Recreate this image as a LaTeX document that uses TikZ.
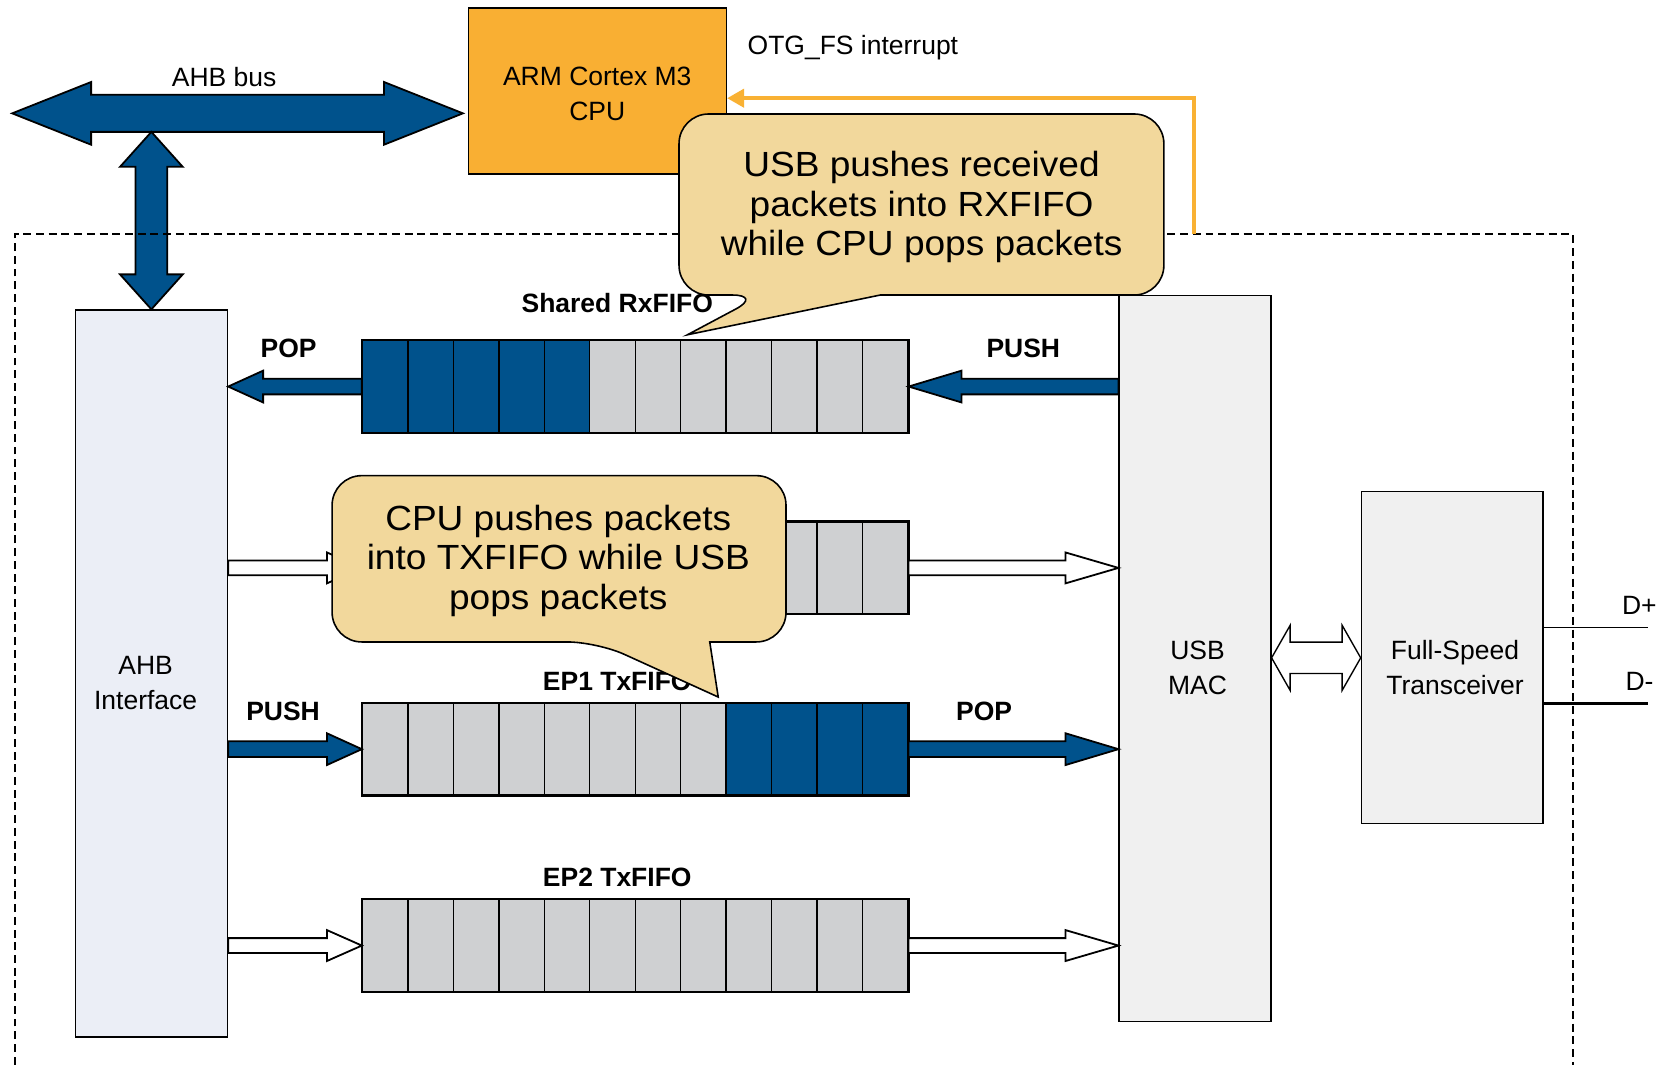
\documentclass[tikz,border=0pt]{standalone}
\usepackage{fontspec}
\setmainfont{Liberation Sans}
\newfontfamily\notefont[FakeStretch=1.06]{Liberation Sans}
\usetikzlibrary{calc,arrows.meta}

\definecolor{busblue}{HTML}{00528C}
\definecolor{cellgray}{HTML}{CFD0D2}
\definecolor{cpuorange}{HTML}{F9AF33}
\definecolor{irqorange}{HTML}{F9B133}
\definecolor{notefill}{HTML}{F2D89C}
\definecolor{ahbfill}{HTML}{EBEEF6}
\definecolor{macfill}{HTML}{F0F0F0}

% block arrow: [style]{tail}{tip}{shaft half width}{head half width}{head length}
\newcommand\blockarrow[6][]{%
  \coordinate (ba-h) at ($(#3)!#6!(#2)$);
  \filldraw[#1] ($(#2)!#4!90:(#3)$) -- ($(ba-h)!#4!90:(#3)$) -- ($(ba-h)!#5!90:(#3)$)
    -- (#3) -- ($(ba-h)!#5!-90:(#3)$) -- ($(ba-h)!#4!-90:(#3)$)
    -- ($(#2)!#4!-90:(#3)$) -- cycle;}

% double-headed block arrow: [style]{tip A}{tip B}{shaft half width}{head half width}{head length}
\newcommand\dblockarrow[6][]{%
  \coordinate (ba-a) at ($(#2)!#6!(#3)$);
  \coordinate (ba-b) at ($(#3)!#6!(#2)$);
  \filldraw[#1] (#2) -- ($(ba-a)!#5!90:(#3)$) -- ($(ba-a)!#4!90:(#3)$)
    -- ($(ba-b)!#4!-90:(#2)$) -- ($(ba-b)!#5!-90:(#2)$) -- (#3)
    -- ($(ba-b)!#5!90:(#2)$) -- ($(ba-b)!#4!90:(#2)$)
    -- ($(ba-a)!#4!-90:(#3)$) -- ($(ba-a)!#5!-90:(#3)$) -- cycle;}

\tikzset{
  box/.style={draw=black, line width=1.4pt, inner sep=0pt, anchor=north west},
  cell/.style={draw=black, line width=1.3pt, inner sep=0pt, anchor=north west,
    minimum width=42.9pt, minimum height=86.5pt},
  fifoframe/.style={draw=black, line width=2pt},
  bluearrow/.style={fill=busblue, draw=black, line width=1.7pt, line join=miter},
  hollowarrow/.style={fill=white, draw=black, line width=1.7pt, line join=miter},
  txt/.style={font=\fontsize{25}{33}\selectfont, inner sep=0pt, align=center},
  lbl/.style={font=\fontsize{25}{30}\selectfont\bfseries, inner sep=0pt, anchor=base},
  plain/.style={font=\fontsize{25}{30}\selectfont, inner sep=0pt, anchor=base},
  notetxt/.style={font=\notefont\fontsize{33}{37.5}\selectfont, inner sep=0pt, align=center},
  callout/.style={fill=notefill, draw=black, line width=1.5pt},
  boundary/.style={draw=black, line width=1.8pt, dash pattern=on 7.5pt off 4.5pt},
  irqline/.style={draw=irqorange, line width=3.8pt, -{Triangle[length=16pt,width=17pt]}},
}

\begin{document}
\begin{tikzpicture}[x=1pt, y=-1pt]
\useasboundingbox (0,0) rectangle (1568,1005);
\fill[white] (0,0) rectangle (1568,1005);

% ---- main blocks ----
\node[box, fill=cpuorange, minimum width=243.4pt, minimum height=156.7pt] (cpu) at (441.6,6.9) {};
\node[box, fill=ahbfill, minimum width=143.6pt, minimum height=686pt] (ahb) at (70.4,292) {};
\node[box, fill=macfill, minimum width=143.2pt, minimum height=685.3pt] (mac) at (1055.8,278.2) {};
\node[box, fill=macfill, minimum width=171.2pt, minimum height=313.1pt] (fs) at (1284.5,463.5) {};

\node[txt] (cputxt) at (563.8,89) {ARM Cortex M3\\CPU};
\node[txt] (ahbtxt) at (137.5,644.5) {AHB\\Interface};
\node[txt] (mactxt) at (1130.5,630.5) {USB\\MAC};
\node[txt] (fstxt) at (1373.5,630.5) {Full-Speed\\Transceiver};

% ---- FIFOs ----
\foreach \i in {1,...,12}{
  \ifnum\i<6 \def\cc{busblue}\else\def\cc{cellgray}\fi
  \node[cell, fill=\cc] (rx\i) at ({341.6+(\i-1)*42.9},321) {};
}
\draw[fifoframe] (rx1.north west) rectangle (rx12.south east);

\foreach \i in {1,...,12}{
  \node[cell, fill=cellgray] (ep0c\i) at ({341.6+(\i-1)*42.9},492.2) {};
}
\draw[fifoframe] (ep0c1.north west) rectangle (ep0c12.south east);

\foreach \i in {1,...,12}{
  \ifnum\i<9 \def\cc{cellgray}\else\def\cc{busblue}\fi
  \node[cell, fill=\cc] (ep1c\i) at ({341.6+(\i-1)*42.9},663.3) {};
}
\draw[fifoframe] (ep1c1.north west) rectangle (ep1c12.south east);

\foreach \i in {1,...,12}{
  \node[cell, fill=cellgray] (ep2c\i) at ({341.6+(\i-1)*42.9},848.7) {};
}
\draw[fifoframe] (ep2c1.north west) rectangle (ep2c12.south east);

\node[lbl] (rxlbl) at (582.7,295.2) {Shared RxFIFO};
\node[lbl] (ep1lbl) at (582.7,651.4) {EP1 TxFIFO};
\node[lbl] (ep2lbl) at (582.7,837) {EP2 TxFIFO};

% ---- data path arrows ----
\coordinate (rxpopend) at (ahb.east |- rx1.west);
\blockarrow[bluearrow]{rx1.west}{rxpopend}{7.4pt}{15pt}{33pt}
\coordinate (rxpushsrc) at (mac.west |- rx12.east);
\blockarrow[bluearrow]{rxpushsrc}{rx12.east}{7.4pt}{15pt}{50pt}
\node[lbl] (rxpop) at (272.4,337.3) {POP};
\node[lbl] (rxpush) at (966,337.6) {PUSH};

\coordinate (ep0in) at (ahb.east |- ep0c1.west);
\blockarrow[hollowarrow]{ep0in}{ep0c1.west}{7pt}{14.6pt}{33pt}
\coordinate (ep0out) at (mac.west |- ep0c12.east);
\blockarrow[hollowarrow]{ep0c12.east}{ep0out}{7pt}{14.6pt}{50pt}

\coordinate (ep1in) at (ahb.east |- ep1c1.west);
\blockarrow[bluearrow]{ep1in}{ep1c1.west}{7.4pt}{15pt}{33pt}
\coordinate (ep1out) at (mac.west |- ep1c12.east);
\blockarrow[bluearrow]{ep1c12.east}{ep1out}{7.4pt}{15pt}{50pt}
\node[lbl] (ep1push) at (267.2,680.3) {PUSH};
\node[lbl] (ep1pop) at (929,680.3) {POP};

\coordinate (ep2in) at (ahb.east |- ep2c1.west);
\blockarrow[hollowarrow]{ep2in}{ep2c1.west}{7pt}{14.6pt}{33pt}
\coordinate (ep2out) at (mac.west |- ep2c12.east);
\blockarrow[hollowarrow]{ep2c12.east}{ep2out}{7pt}{14.6pt}{50pt}

% ---- MAC <-> transceiver ----
\coordinate (linkL) at (mac.east |- 0,621);
\coordinate (linkR) at (fs.west |- 0,621);
\dblockarrow[hollowarrow, line width=1.3pt]{linkL}{linkR}{14.8pt}{30.7pt}{17.5pt}

% ---- D+ / D- lines ----
\coordinate (dpend) at (1556,592.6);
\coordinate (dmend) at (1556,663.8);
\draw[line width=1.3pt] (fs.east |- dpend) -- (dpend);
\draw[line width=2.6pt] (fs.east |- dmend) -- (dmend);
\node[plain] (dplbl) at (1547.5,579.7) {D+};
\node[plain] (dmlbl) at (1547.7,651.4) {D-};

% ---- AHB bus ----
\coordinate (busL) at (11.5,107);
\coordinate (busR) at (437,107);
\dblockarrow[bluearrow]{busL}{busR}{17.5pt}{29.6pt}{74.5pt}
\coordinate (busjoin) at (ahb.north |- 0,124.5);
\dblockarrow[bluearrow]{busjoin}{ahb.north}{15pt}{29.6pt}{33pt}
\node[plain] (buslbl) at (211.6,81.2) {AHB bus};

% ---- OTG core boundary ----
\draw[boundary] (14,1005) -- (14,221) -- (1484.7,221) -- (1484.7,1005);

% ---- interrupt line ----
\coordinate (irqsrc) at (1127.5,221);
\coordinate (irqin) at (cpu.east |- 0,92.7);
\draw[irqline] (irqsrc) |- (irqin);
\node[plain, anchor=base west] (irqlbl) at (705.6,51.9) {OTG\_FS interrupt};

% ---- callouts ----
\draw[callout] (831,278.5) [rounded corners=28pt] -- (1098.7,278.5) -- (1098.7,107.6)
  -- (641,107.6) -- (641,278.5) -- (719.4,278.5) [sharp corners] -- (649,316) -- cycle;
\node[notetxt] (notea) at (870,195.5) {USB pushes received\\packets into RXFIFO\\while CPU pops packets};

\draw[callout] (670,606) [rounded corners=28pt] -- (742,606) -- (742,449)
  -- (313.5,449) -- (313.5,606) -- (563.6,606) [sharp corners] -- (678,658) -- cycle;
\node[notetxt] (noteb) at (527,529.5) {CPU pushes packets\\into TXFIFO while USB\\pops packets};
\end{tikzpicture}
\end{document}
